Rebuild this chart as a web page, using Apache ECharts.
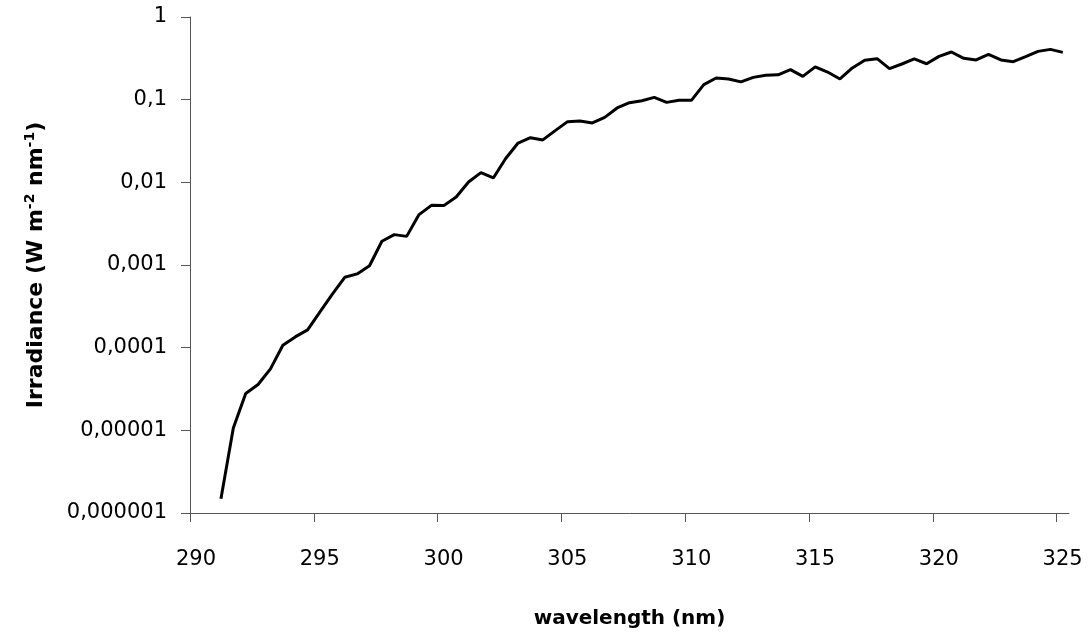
<!DOCTYPE html>
<html>
<head>
    <meta charset="utf-8">
    <title>Irradiance</title>
    <script src="https://cdn.jsdelivr.net/npm/echarts@6/dist/echarts.min.js"></script>
    <style>
        html, body { margin: 0; padding: 0; background: #fff; }
    </style>
</head>
<body>
    <div id="main" style="width: 1090px;height:635px;"></div>
    <script type="text/javascript">
    // wavelength (nm)
    var wavelengths = [
        291.25, 291.75, 292.25, 292.75, 293.25, 293.75, 294.25, 294.75, 295.25, 295.75,
        296.25, 296.75, 297.25, 297.75, 298.25, 298.75, 299.25, 299.75, 300.25, 300.75,
        301.25, 301.75, 302.25, 302.75, 303.25, 303.75, 304.25, 304.75, 305.25, 305.75,
        306.25, 306.75, 307.25, 307.75, 308.25, 308.75, 309.25, 309.75, 310.25, 310.75,
        311.25, 311.75, 312.25, 312.75, 313.25, 313.75, 314.25, 314.75, 315.25, 315.75,
        316.25, 316.75, 317.25, 317.75, 318.25, 318.75, 319.25, 319.75, 320.25, 320.75,
        321.25, 321.75, 322.25, 322.75, 323.25, 323.75, 324.25, 324.75, 325.25
    ];
    // irradiance (W m-2 nm-1)
    var irradiance = [
        1.49e-6, 1.07e-5, 2.79e-5, 3.58e-5, 5.54e-5, 1.07e-4, 1.35e-4, 1.64e-4, 2.71e-4, 4.43e-4,
        7.1e-4, 7.8e-4, 9.8e-4, 1.94e-3, 2.33e-3, 2.22e-3, 4.07e-3, 5.27e-3, 5.23e-3, 6.66e-3,
        0.0101, 0.0131, 0.0113, 0.0194, 0.0299, 0.0347, 0.0326, 0.0422, 0.0542, 0.0552,
        0.0523, 0.0611, 0.0794, 0.0920, 0.0972, 0.1067, 0.0927, 0.0982, 0.0982, 0.152,
        0.183, 0.178, 0.164, 0.186, 0.197, 0.200, 0.231, 0.191, 0.249, 0.216,
        0.178, 0.242, 0.299, 0.313, 0.237, 0.270, 0.311, 0.272, 0.334, 0.377,
        0.316, 0.302, 0.353, 0.302, 0.288, 0.331, 0.384, 0.406, 0.373
    ];
    var xTicks = [290, 295, 300, 305, 310, 315, 320, 325];

    var font = "'Comic Sans MS', 'DejaVu Sans', sans-serif";
    var axisColor = '#555';

    var myChart = echarts.init(document.getElementById('main'));

    var points = wavelengths.map(function (w, i) {
        return [w, irradiance[i]];
    });

    var option = {
        animation: false,
        backgroundColor: '#fff',
        grid: {
            left: 190,
            right: 21,
            top: 17,
            bottom: 122
        },
        xAxis: {
            type: 'value',
            min: 290,
            max: 325.5,
            interval: 5,
            name: 'wavelength (nm)',
            nameLocation: 'middle',
            nameGap: 96,
            nameTextStyle: {
                fontFamily: font,
                fontSize: 20,
                fontWeight: 'bold',
                color: '#000'
            },
            axisLine: { show: true, lineStyle: { color: axisColor, width: 1 } },
            axisTick: {
                show: true,
                length: 9,
                customValues: xTicks,
                lineStyle: { color: axisColor }
            },
            axisLabel: {
                customValues: xTicks,
                margin: 36,
                padding: [0, 0, 0, 12],
                fontFamily: font,
                fontSize: 21,
                color: '#000'
            },
            splitLine: { show: false }
        },
        yAxis: {
            type: 'log',
            logBase: 10,
            min: 0.000001,
            max: 1,
            interval: 1,
            name: 'Irradiance (W m{sup|-2} nm{sup|-1})',
            nameLocation: 'middle',
            nameGap: 141,
            nameTextStyle: {
                fontFamily: font,
                fontSize: 22,
                fontWeight: 'bold',
                color: '#000',
                lineHeight: 26,
                rich: {
                    sup: {
                        fontFamily: font,
                        fontSize: 14,
                        fontWeight: 'bold',
                        color: '#000',
                        verticalAlign: 'top',
                        lineHeight: 14
                    }
                }
            },
            axisLine: { show: true, lineStyle: { color: axisColor, width: 1 } },
            axisTick: { show: true, length: 9, lineStyle: { color: axisColor } },
            axisLabel: {
                margin: 23,
                fontFamily: font,
                fontSize: 21,
                color: '#000',
                formatter: function (v) {
                    if (v >= 1) {
                        return '1';
                    }
                    var d = Math.round(-Math.log10(v));
                    return v.toFixed(d).replace('.', ',');
                }
            },
            splitLine: { show: false }
        },
        series: [
            {
                type: 'line',
                data: points,
                showSymbol: false,
                lineStyle: { color: '#000', width: 3 },
                itemStyle: { color: '#000' }
            }
        ]
    };

    myChart.setOption(option);
    </script>
</body>
</html>
